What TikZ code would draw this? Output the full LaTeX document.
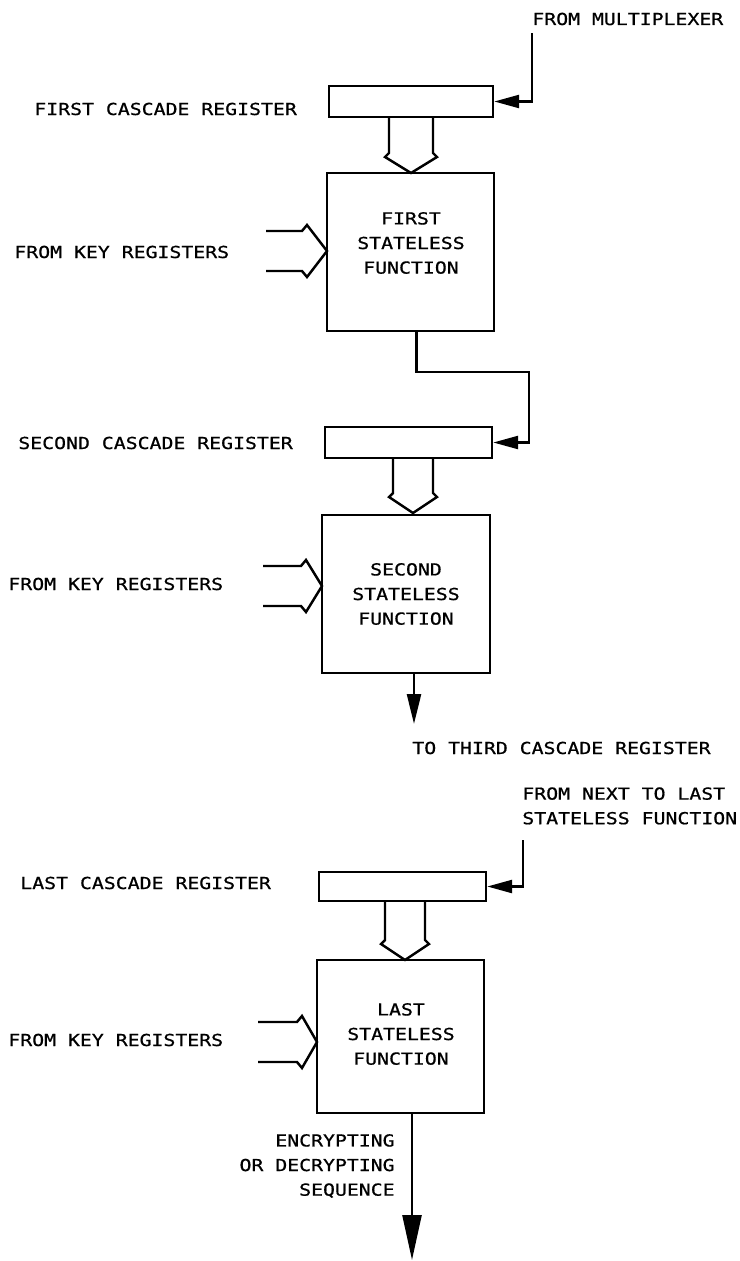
\documentclass[tikz,border=0pt]{standalone}
\usepackage{fontspec}
\usetikzlibrary{arrows.meta,calc}
\newfontfamily\plotfont[FakeStretch=1.2,FakeBold=0.8]{DejaVu Sans Mono}
\newcommand{\hdown}[4]{% cx, ytop, ytip, half width
  \draw[wire] (#1-#4,#2) -- (#1-#4,#3-20) -- (#1-#4-4,#3-16) -- (#1,#3)
    -- (#1+#4+4,#3-16) -- (#1+#4,#3-20) -- (#1+#4,#2);}
\newcommand{\hright}[4]{% x0, xs, xtip, cy
  \draw[wire] (#1,#4-20) -- (#2,#4-20) -- (#2+5,#4-26) -- (#3,#4)
    -- (#2+5,#4+26) -- (#2,#4+20) -- (#1,#4+20);}
\tikzset{
  wire/.style={line width=1.4pt, line join=miter},
  lbl/.style={inner sep=0pt, font=\plotfont\fontsize{9.4}{14}\selectfont},
  reg/.style={draw, line width=1.4pt, inner sep=0pt, minimum height=0.61cm},
  fbox/.style={draw, line width=1.4pt, inner sep=0pt},
  feed/.style={wire, -{Triangle[length=0.5cm,width=0.26cm]}},
}
\begin{document}
\begin{tikzpicture}[x=0.02cm, y=-0.02cm]
\useasboundingbox (0,0) rectangle (740,1261);

% registers
\node[reg, minimum width=3.28cm] (r1) at (411,101.5) {};
\node[reg, minimum width=3.34cm] (r2) at (408.5,442.5) {};
\node[reg, minimum width=3.34cm, minimum height=0.58cm] (r3) at (402.5,886.5) {};

% function boxes
\node[fbox, minimum width=3.34cm, minimum height=3.16cm] (f1) at (410.5,252) {};
\node[fbox, minimum width=3.36cm, minimum height=3.16cm] (f2) at (406,594) {};
\node[fbox, minimum width=3.34cm, minimum height=3.06cm] (f3) at (400.5,1036.5) {};

% box texts
\node[lbl, align=center] (f1t) at (411,243) {FIRST\\STATELESS\\FUNCTION};
\node[lbl, align=center] (f2t) at (406,594) {SECOND\\STATELESS\\FUNCTION};
\node[lbl, align=center] (f3t) at (401,1034) {LAST\\STATELESS\\FUNCTION};

% left labels
\node[lbl, anchor=base west] (l1) at (34,115) {FIRST CASCADE REGISTER};
\node[lbl, anchor=base west] (k1) at (14,258) {FROM KEY REGISTERS};
\node[lbl, anchor=base west] (l2) at (18,449) {SECOND CASCADE REGISTER};
\node[lbl, anchor=base west] (k2) at (8,590) {FROM KEY REGISTERS};
\node[lbl, anchor=base west] (l3) at (20,889) {LAST CASCADE REGISTER};
\node[lbl, anchor=base west] (k3) at (8,1046) {FROM KEY REGISTERS};

% right labels
\node[lbl, anchor=base west] (mux) at (532,25) {FROM MULTIPLEXER};
\node[lbl, anchor=base west] (third) at (412,754) {TO THIRD CASCADE REGISTER};
\node[lbl, anchor=north west, align=left] (next) at (522,787) {FROM NEXT TO LAST\\STATELESS FUNCTION};
\node[lbl, anchor=east, align=right] (enc) at (395,1166) {ENCRYPTING\\OR DECRYPTING\\SEQUENCE};

% coordinates
\coordinate (in1) at (532,33);
\coordinate (bend) at (529,372);
\coordinate (in3) at (523,840);
\coordinate (out2) at (414,724);
\coordinate (out3) at (412,1260);

% feed connectors
\draw[feed] (in1) |- (r1.east);
\draw[feed] ([xshift=0.12cm]f1.south) |- (bend) |- (r2.east);
\draw[feed] (in3) |- (r3.east);

% outputs
\draw[wire, -{Triangle[length=0.6cm,width=0.28cm]}] (f2.south -| out2) -- (out2);
\draw[wire, -{Triangle[length=0.9cm,width=0.38cm]}] (f3.south -| out3) -- (out3);

% hollow arrows register -> function
\hdown{411}{117}{173}{22}
\hdown{413}{458}{513}{20}
\hdown{405}{901}{960}{20}

% hollow arrows from key registers
\hright{266}{302}{327}{251}
\hright{263}{301}{322}{586}
\hright{258}{297}{317}{1042}
\end{tikzpicture}
\end{document}
